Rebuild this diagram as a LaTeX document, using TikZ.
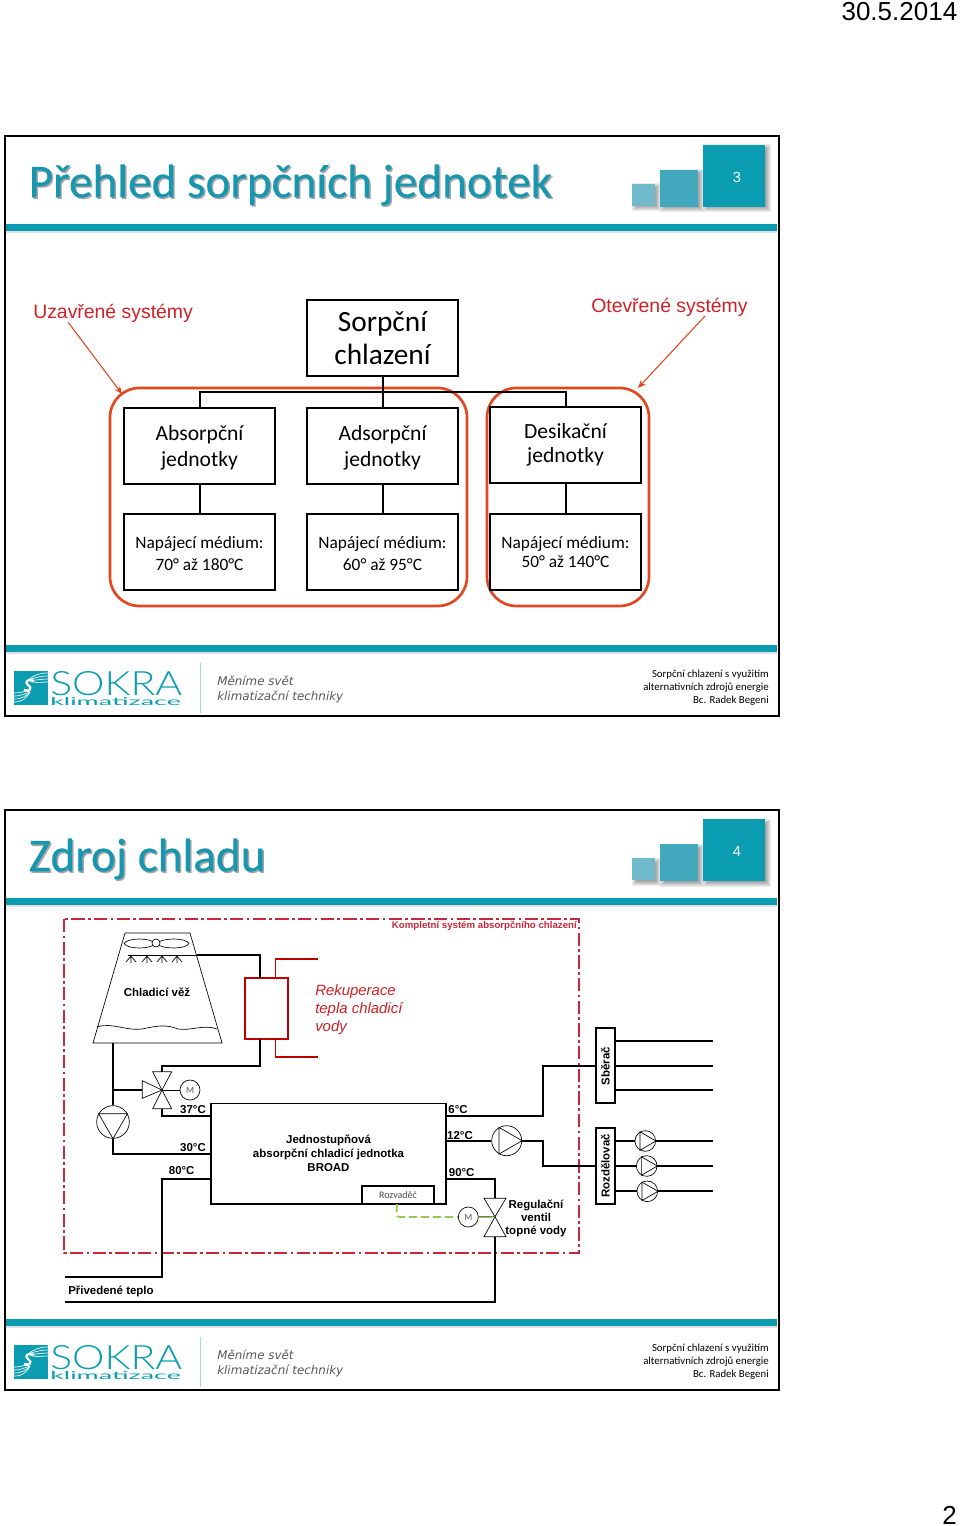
\documentclass[tikz,border=0pt]{standalone}
\usepackage{fontspec}
\setmainfont{Carlito}
\newfontfamily\arialfont{Liberation Sans}
\newfontfamily\logofont{Lato}[UprightFont=* Light]
\newfontfamily\logosubfont{Lato}
\newfontfamily\sloganfont{DejaVu Sans}
\newfontfamily\titlefont{Carlito}[FakeBold=0.3]
\usetikzlibrary{arrows.meta, calc}
\definecolor{bandteal}{RGB}{10, 157, 178}
\definecolor{midteal}{RGB}{66, 168, 190}
\definecolor{lowteal}{RGB}{112, 186, 204}
\definecolor{titleteal}{RGB}{24, 150, 176}
\definecolor{markred}{RGB}{208, 32, 38}
\definecolor{ringred}{RGB}{226, 72, 32}
\definecolor{frameredd}{RGB}{200, 40, 60}
\definecolor{signalgreen}{RGB}{150, 200, 80}

\tikzset{
  orgbox/.style={draw, line width=1.5pt, minimum width=113pt, minimum height=57pt, align=center, inner sep=0pt, font=\fontsize{16.2}{20}\selectfont},
  feedbox/.style={orgbox, font=\fontsize{13}{16}\selectfont},
  ringbox/.style={draw=ringred, line width=2pt, rounded corners=22pt},
  marklabel/.style={text=markred, font=\arialfont\fontsize{14.55}{18}\selectfont, inner sep=0pt},
  markarrow/.style={draw=ringred, line width=0.8pt, -{Stealth[length=6pt, width=5pt]}},
  pipe/.style={line width=1.3pt},
  tempmark/.style={font=\arialfont\bfseries\fontsize{8.6}{10}\selectfont, inner sep=0pt},
  planttext/.style={font=\arialfont\bfseries\fontsize{8.6}{10.6}\selectfont, align=center, inner sep=0pt},
  roundpart/.style={draw, circle, line width=0.5pt, inner sep=0pt, fill=white},
  motorpart/.style={roundpart, minimum size=15pt, font=\fontsize{7}{8}\selectfont, text=black!65},
  valvepart/.style={draw, line width=0.5pt, fill=white, line join=miter},
  manifold/.style={draw, line width=1.5pt, minimum width=14.5pt, inner sep=0pt, fill=white},
  recovery/.style={draw=red!75!black, line width=0.9pt},
}

% pushes the two lines of a box a little down
\newcommand{\orgstrut}{\rule{0pt}{15pt}}
\newcommand{\feedstrut}{\rule{0pt}{11.5pt}}

% soft shadow below a header square
\newcommand{\softshadow}[4]{
  \foreach \sh in {0.5,1.5,...,5.5}{
    \fill[black, opacity=0.07] (#1+5-\sh,#2+5-\sh) rectangle (#3+\sh,#4+\sh);
  }
}

% one slide: frame, header squares, bands and footer
\newcommand{\slidebase}[4]{
  \begin{scope}[shift={(0,#1)}]
    \fill[black!12] (6,231) rectangle (777,233);
    \fill[bandteal] (6,224) rectangle (777,231);
    \fill[black!12] (6,652) rectangle (777,654);
    \fill[bandteal] (6,645) rectangle (777,652);
    \draw[line width=1.5pt] (5,136) rectangle (779,716);
    \node[anchor=west, inner sep=0pt, text=black!35, font=\titlefont\fontsize{35.4}{40}\selectfont] at (30,186.5) {#3};
    \node[anchor=west, inner sep=0pt, text=titleteal, font=\titlefont\fontsize{35.4}{40}\selectfont] (title#4) at (28.5,185) {#3};
    \softshadow{632}{184}{655}{206}
    \softshadow{660}{170}{698}{207}
    \softshadow{703}{145}{765}{207}
    \fill[lowteal] (632,184) rectangle (655,206);
    \fill[midteal] (660,170) rectangle (698,207);
    \fill[bandteal] (703,145) rectangle (765,207);
    \node[text=white, inner sep=0pt, font=\arialfont\fontsize{11}{13}\selectfont] (number#4) at (737,177) {#2};
    % logo
    \fill[bandteal] (14,671) rectangle (48,705);
    \foreach \ly in {693,696,699,702}{
      \draw[white, line width=0.5pt] (14,\ly) .. controls (22,\ly) and (26,\ly-3) .. (30,692);
    }
    \foreach \ly in {673,676,679,682}{
      \draw[white, line width=0.5pt] (48,\ly) .. controls (40,\ly) and (34,\ly+2) .. (28,680);
    }
    \draw[white, line width=1.6pt] (34,681) .. controls (28,678) and (24,682) .. (28,685) .. controls (33,688) and (30,692) .. (24,690);
    \node[anchor=south west, inner sep=0pt, text=bandteal] (logoname#4) at (50,696) {\resizebox{99pt}{18pt}{\logofont SOKRA}};
    \node[anchor=south west, inner sep=0pt, text=bandteal] (logosub#4) at (50,706) {\resizebox{98pt}{6pt}{\logosubfont klimatizace}};
    \draw[lowteal!60, line width=0.6pt] (200,663) -- (200,713);
    \node[anchor=west, inner sep=0pt, text=black!65, font=\sloganfont\itshape\fontsize{8.93}{12}\selectfont] (sloganA#4) at (217,681) {Měníme svět};
    \node[anchor=west, inner sep=0pt, text=black!65, font=\sloganfont\itshape\fontsize{8.93}{12}\selectfont] (sloganB#4) at (217,697) {klimatizační techniky};
    \node[anchor=east, align=right, inner sep=0pt, font=\fontsize{8.1}{9.75}\selectfont] (credit#4) at (769,688) {Sorpční chlazení s využitím\\alternativních zdrojů energie\\Bc. Radek Begeni};
  \end{scope}
}

\begin{document}
\begin{tikzpicture}[x=0.75pt, y=-0.75pt]
  \useasboundingbox (0,0) rectangle (960,1526);
  \fill[white] (0,0) rectangle (960,1526);

  \node[anchor=east, inner sep=0pt, font=\arialfont\fontsize{19.5}{22}\selectfont] (date) at (957.5,12) {30.5.2014};
  \node[anchor=east, inner sep=0pt, font=\arialfont\fontsize{19.5}{22}\selectfont] (page) at (957,1515) {2};

  \slidebase{0}{3}{Přehled sorpčních jednotek}{A}
  \slidebase{674}{4}{Zdroj chladu}{B}

  % first slide
  \draw[ringbox] (110,388) rectangle (467,606);
  \draw[ringbox] (487,388) rectangle (649,606);

  \node[orgbox, font=\fontsize{22}{25}\selectfont] (sorption) at (382.5,338) {Sorpční\\chlazení};
  \node[orgbox] (absorb) at (199.5,445.5) {\orgstrut Absorpční\\jednotky};
  \node[orgbox] (adsorb) at (382.5,445.5) {\orgstrut Adsorpční\\jednotky};
  \node[orgbox] (desic) at (565.5,445) {Desikační\\[-2.25pt]jednotky};
  \node[feedbox] (absorbfeed) at (199.5,552) {\feedstrut Napájecí médium:\\70° až 180°C};
  \node[feedbox] (adsorbfeed) at (382.5,552) {\feedstrut Napájecí médium:\\60° až 95°C};
  \node[feedbox] (desicfeed) at (565.5,552) {Napájecí médium:\\[-2pt]50° až 140°C};

  \coordinate (bus) at (382.5,392);
  \draw[line width=1.5pt] (sorption) -- (adsorb);
  \draw[line width=1.5pt] (absorb.north) -- (absorb.north |- bus) -- (desic.north |- bus) -- (desic.north);
  \draw[line width=1.5pt] (absorb) -- (absorbfeed);
  \draw[line width=1.5pt] (adsorb) -- (adsorbfeed);
  \draw[line width=1.5pt] (desic) -- (desicfeed);

  \node[marklabel, anchor=west] (closed) at (33,313) {Uzavřené systémy};
  \node[marklabel, anchor=west] (opened) at (591,307) {Otevřené systémy};
  \coordinate (closedtip) at (122,394);
  \coordinate (opentip) at (638,388);
  \draw[markarrow] (68,322) -- (closedtip);
  \draw[markarrow] (705,316) -- (opentip);

  % second slide
  \draw[frameredd, line width=1pt, dash pattern=on 10pt off 2.5pt on 2pt off 2.5pt] (64,919) rectangle (579,1253);
  \node[anchor=east, inner sep=0pt, text=frameredd, font=\arialfont\bfseries\fontsize{7.25}{9}\selectfont] (complete) at (577,926) {Kompletní systém absorpčního chlazení};

  % cooling tower
  \draw[line width=0.5pt] (125,933) -- (190,933) -- (222,1043) -- (93,1043) -- cycle;
  \draw[line width=0.5pt] (124,943.5) .. controls (128,937.5) and (150,937.5) .. (156,943.5) .. controls (162,937.5) and (186,937.5) .. (189,943.5) .. controls (186,949.5) and (162,949.5) .. (156,943.5) .. controls (150,949.5) and (128,949.5) .. (124,943.5);
  \draw[line width=0.5pt, fill=white] (156,943) circle (4);
  \draw[line width=0.5pt] (128,955) -- (197,955);
  \foreach \sx in {131,147,162,177}{
    \draw[line width=0.5pt] (\sx,963) -- (\sx,956) (\sx-5,962) -- (\sx,956) -- (\sx+5,962);
  }
  \draw[line width=0.5pt] (97,1027) .. controls (112,1022) and (125,1031) .. (142,1029) .. controls (156,1026) and (166,1024) .. (178,1029) .. controls (192,1031) and (204,1024) .. (217,1029);
  \node[planttext] (tower) at (157,992) {Chladicí věž};
  \coordinate (towerout) at (197,955);
  \coordinate (towerdown) at (113,1043);

  % recovery exchanger
  \node[recovery, line width=1.5pt, minimum width=32pt, minimum height=45.5pt, inner sep=0pt] (exchanger) at (266.5,1008.5) {};
  \draw[recovery] (275.7,978) |- (318,959);
  \draw[recovery] (275.7,1039) |- (318,1057);
  \node[anchor=north west, inner sep=0pt, align=left, text=markred, font=\arialfont\itshape\fontsize{11.2}{13.5}\selectfont] (recoverytext) at (315,984) {Rekuperace\\tepla chladicí\\vody};
  \coordinate (exchtop) at (260,978);
  \coordinate (exchbot) at (260,1039);

  % absorption unit
  \node[draw, line width=1.3pt, minimum width=176.5pt, minimum height=75.5pt, inner sep=0pt] (unit) at (328.3,1153.7) {};
  \node[planttext] (unittext) at (328.5,1153.5) {Jednostupňová\\absorpční chladicí jednotka\\BROAD};
  \node[draw, line width=0.9pt, minimum width=54pt, minimum height=13.5pt, inner sep=0pt, text=black!70, font=\fontsize{7.5}{9}\selectfont] (panel) at (398,1195) {Rozvaděč};

  % cooling water valve and pump
  \coordinate (valveA) at (162,1090);
  \draw[valvepart] (152.7,1071.7) -- (171.7,1071.7) -- (valveA) -- cycle;
  \draw[valvepart] (152.7,1108.7) -- (171.7,1108.7) -- (valveA) -- cycle;
  \draw[valvepart] (142.3,1080.7) -- (142.3,1098.3) -- (valveA) -- cycle;
  \node[motorpart] (motorA) at (190,1090) {M};
  \draw[line width=0.6pt] (valveA) -- (motorA);
  \node[roundpart, minimum size=24.5pt] (pumpA) at (113,1122) {};
  \draw[line width=0.5pt] (pumpA.150) -- (pumpA.30) -- (pumpA.270) -- cycle;

  \draw[pipe, line width=1.6pt] (towerout) -| (exchtop);
  \draw[pipe, line width=1.6pt] (exchbot) |- (162,1066) -- (162,1071.7);
  \draw[pipe] (towerdown) -- (pumpA);
  \draw[pipe] (113,1090) -- (142.3,1090);
  \draw[pipe, line width=1.6pt] (162,1108.7) |- (unit.west |- 0,1115.7);
  \draw[pipe] (pumpA) |- (unit.west |- 0,1154);
  \node[tempmark] (t37) at (193,1110) {37°C};
  \node[tempmark] (t30) at (193,1148) {30°C};
  \node[tempmark] (t80) at (181.7,1171) {80°C};

  % heat supply and control valve
  \coordinate (valveB) at (495,1216.7);
  \draw[valvepart] (484,1198.3) -- (506,1198.3) -- (valveB) -- cycle;
  \draw[valvepart] (484,1236.7) -- (506,1236.7) -- (valveB) -- cycle;
  \node[motorpart] (motorB) at (468.3,1217) {M};
  \coordinate (heatin) at (65,1277.3);
  \coordinate (heatout) at (65,1302);
  \draw[pipe, line width=1.6pt] (unit.west |- 0,1179) -- (162,1179) |- (heatin);
  \draw[pipe, line width=1.6pt] (heatout) -| (495,1236.7);
  \draw[pipe, line width=1.6pt] (unit.east |- 0,1179) -| (495,1198.3);
  \draw[signalgreen, line width=1.4pt, dash pattern=on 6pt off 3pt, rounded corners=2pt] (396.7,1204) |- (motorB);
  \draw[signalgreen!70!black, line width=1.1pt] (motorB) -- (valveB);
  \node[tempmark] (t90) at (461.7,1172.5) {90°C};
  \node[anchor=west, inner sep=0pt, font=\arialfont\bfseries\fontsize{8.6}{10}\selectfont] (supply) at (68,1291) {Přivedené teplo};
  \node[planttext, font=\arialfont\bfseries\fontsize{8.6}{9.8}\selectfont] (regtext) at (536,1218.5) {Regulační\\ventil\\topné vody};

  % manifolds
  \node[manifold, minimum height=56pt] (collector) at (605.8,1065.8) {};
  \node[rotate=90, font=\arialfont\bfseries\fontsize{8.6}{10}\selectfont, inner sep=0pt] (collectortext) at (605.5,1066) {Sběrač};
  \node[manifold, minimum height=57pt] (splitter) at (605.8,1166.3) {};
  \node[rotate=90, font=\arialfont\bfseries\fontsize{8.6}{10}\selectfont, inner sep=0pt] (splittertext) at (605.5,1166) {Rozdělovač};

  \node[roundpart, minimum size=22.5pt] (pumpB) at (506.7,1140.7) {};
  \draw[line width=0.5pt] (pumpB.120) -- (pumpB.240) -- (pumpB.0) -- cycle;
  \draw[pipe, line width=1.6pt] (unit.east |- 0,1115.7) -- (543.3,1115.7) |- (collector.west |- 0,1065.7);
  \draw[pipe] (unit.east |- 0,1140.7) -- (pumpB);
  \draw[pipe] (pumpB) -- (543.3,1140.7) |- (splitter.west |- 0,1166);
  \node[tempmark] (t6) at (458,1109.8) {6°C};
  \node[tempmark] (t12) at (460,1135.5) {12°C};

  \foreach \oy/\oname in {1040.7/a, 1065.7/b, 1090.3/c}{
    \coordinate (out\oname) at (713,\oy);
    \draw[pipe] (collector.east |- out\oname) -- (out\oname);
  }
  \foreach \oy/\ox/\oname in {1141/645.3/a, 1166/646.7/b, 1191.3/647.3/c}{
    \coordinate (feed\oname) at (713,\oy);
    \draw[pipe] (splitter.east |- feed\oname) -- (feed\oname);
    \node[roundpart, minimum size=15.5pt] (pump\oname) at (\ox,\oy) {};
    \draw[line width=0.5pt] (pump\oname.120) -- (pump\oname.240) -- (pump\oname.0) -- cycle;
  }
\end{tikzpicture}
\end{document}
